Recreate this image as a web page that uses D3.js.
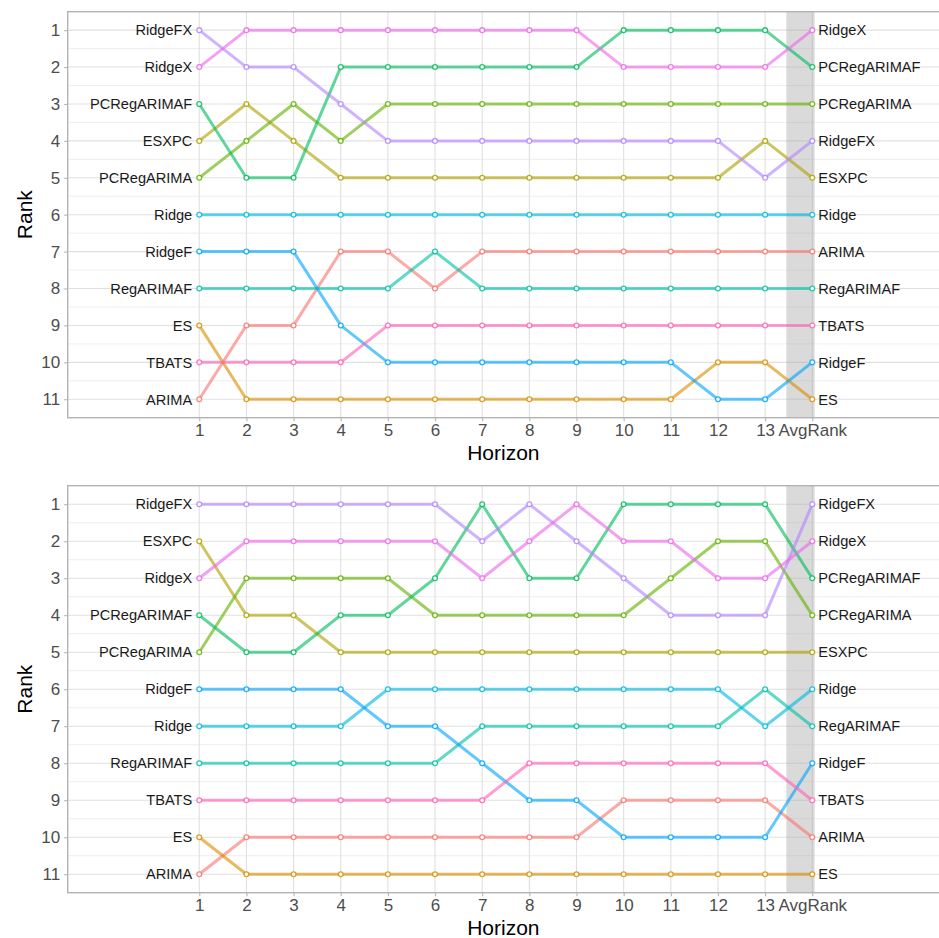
<!DOCTYPE html>
<html>
<head>
<meta charset="utf-8">
<script src="https://cdn.jsdelivr.net/npm/d3@7"></script>
<style>
  html, body { margin: 0; padding: 0; background: #fff; }
  svg { display: block; font-family: "Liberation Sans", Arial, sans-serif; }
</style>
</head>
<body>
<svg id="chart" width="939" height="938"></svg>
<script>
// ---------- data ----------
const models = ["ARIMA", "ES", "ESXPC", "PCRegARIMA", "PCRegARIMAF", "RegARIMAF",
                "Ridge", "RidgeF", "RidgeFX", "RidgeX", "TBATS"];
const modelColors = ["#F8766D", "#DB8E00", "#AEA200", "#64B200", "#00BD5C", "#00C1A7",
                     "#00BADE", "#00A6FF", "#B385FF", "#EF67EB", "#FF63B6"];
const horizonLabels = ["1","2","3","4","5","6","7","8","9","10","11","12","13","AvgRank"];
const rankTicks = [1,2,3,4,5,6,7,8,9,10,11];

// Top panel ranks: horizons 1..13 then AvgRank
const topARIMA       = [11, 9, 9, 7, 7, 8, 7, 7, 7, 7, 7, 7, 7, 7];
const topES          = [ 9,11,11,11,11,11,11,11,11,11,11,10,10,11];
const topESXPC       = [ 4, 3, 4, 5, 5, 5, 5, 5, 5, 5, 5, 5, 4, 5];
const topPCRegARIMA  = [ 5, 4, 3, 4, 3, 3, 3, 3, 3, 3, 3, 3, 3, 3];
const topPCRegARIMAF = [ 3, 5, 5, 2, 2, 2, 2, 2, 2, 1, 1, 1, 1, 2];
const topRegARIMAF   = [ 8, 8, 8, 8, 8, 7, 8, 8, 8, 8, 8, 8, 8, 8];
const topRidge       = [ 6, 6, 6, 6, 6, 6, 6, 6, 6, 6, 6, 6, 6, 6];
const topRidgeF      = [ 7, 7, 7, 9,10,10,10,10,10,10,10,11,11,10];
const topRidgeFX     = [ 1, 2, 2, 3, 4, 4, 4, 4, 4, 4, 4, 4, 5, 4];
const topRidgeX      = [ 2, 1, 1, 1, 1, 1, 1, 1, 1, 2, 2, 2, 2, 1];
const topTBATS       = [10,10,10,10, 9, 9, 9, 9, 9, 9, 9, 9, 9, 9];

// Bottom panel ranks
const botARIMA       = [11,10,10,10,10,10,10,10,10, 9, 9, 9, 9,10];
const botES          = [10,11,11,11,11,11,11,11,11,11,11,11,11,11];
const botESXPC       = [ 2, 4, 4, 5, 5, 5, 5, 5, 5, 5, 5, 5, 5, 5];
const botPCRegARIMA  = [ 5, 3, 3, 3, 3, 4, 4, 4, 4, 4, 3, 2, 2, 4];
const botPCRegARIMAF = [ 4, 5, 5, 4, 4, 3, 1, 3, 3, 1, 1, 1, 1, 3];
const botRegARIMAF   = [ 8, 8, 8, 8, 8, 8, 7, 7, 7, 7, 7, 7, 6, 7];
const botRidge       = [ 7, 7, 7, 7, 6, 6, 6, 6, 6, 6, 6, 6, 7, 6];
const botRidgeF      = [ 6, 6, 6, 6, 7, 7, 8, 9, 9,10,10,10,10, 8];
const botRidgeFX     = [ 1, 1, 1, 1, 1, 1, 2, 1, 2, 3, 4, 4, 4, 1];
const botRidgeX      = [ 3, 2, 2, 2, 2, 2, 3, 2, 1, 2, 2, 3, 3, 2];
const botTBATS       = [ 9, 9, 9, 9, 9, 9, 9, 8, 8, 8, 8, 8, 8, 9];

const topRanks = [topARIMA, topES, topESXPC, topPCRegARIMA, topPCRegARIMAF, topRegARIMAF,
                  topRidge, topRidgeF, topRidgeFX, topRidgeX, topTBATS];
const botRanks = [botARIMA, botES, botESXPC, botPCRegARIMA, botPCRegARIMAF, botRegARIMAF,
                  botRidge, botRidgeF, botRidgeFX, botRidgeX, botTBATS];

// ---------- drawing ----------
const svg = d3.select("#chart");
const color = d3.scaleOrdinal().domain(models).range(modelColors);

const panelLeft = 67.7, panelRight = 941;
const x = d3.scaleLinear().domain([-1.79, 16.73]).range([panelLeft, panelRight]);
const xPos = i => x(i + 1);

function drawPanel(top, bottom, ranks) {
  const g = svg.append("g");
  const y = d3.scaleLinear().domain([0.5, 11.5]).range([top, bottom]);

  // minor horizontal gridlines
  const minor = d3.range(1.5, 11.5, 1);
  g.selectAll(".minor").data(minor).enter().append("line")
    .attr("x1", panelLeft).attr("x2", panelRight)
    .attr("y1", d => y(d)).attr("y2", d => y(d))
    .attr("stroke", "#E6E6E6").attr("stroke-width", 0.7);
  // major horizontal gridlines
  g.selectAll(".majorY").data(rankTicks).enter().append("line")
    .attr("x1", panelLeft).attr("x2", panelRight)
    .attr("y1", d => y(d)).attr("y2", d => y(d))
    .attr("stroke", "#E0E0E0").attr("stroke-width", 1.1);
  // major vertical gridlines
  g.selectAll(".majorX").data(horizonLabels).enter().append("line")
    .attr("x1", (d, i) => xPos(i)).attr("x2", (d, i) => xPos(i))
    .attr("y1", top).attr("y2", bottom)
    .attr("stroke", "#E0E0E0").attr("stroke-width", 1.1);

  // shaded AvgRank band
  g.append("rect")
    .attr("x", x(13.45)).attr("width", x(14.05) - x(13.45))
    .attr("y", top).attr("height", bottom - top)
    .attr("fill", "#A6A6A6").attr("fill-opacity", 0.42);

  // lines
  const line = d3.line().x((d, i) => xPos(i)).y(d => y(d));
  models.forEach((m, k) => {
    g.append("path").datum(ranks[k])
      .attr("d", line)
      .attr("fill", "none")
      .attr("stroke", color(m))
      .attr("stroke-opacity", 0.62)
      .attr("stroke-width", 3)
      .attr("stroke-linejoin", "round");
  });
  // points
  models.forEach((m, k) => {
    g.selectAll(null).data(ranks[k]).enter().append("circle")
      .attr("cx", (d, i) => xPos(i)).attr("cy", d => y(d))
      .attr("r", 2.4)
      .attr("fill", "#fff")
      .attr("stroke", color(m))
      .attr("stroke-opacity", 0.85)
      .attr("stroke-width", 1.3);
  });

  // left labels
  models.forEach((m, k) => {
    g.append("text")
      .attr("x", xPos(0) - 7).attr("y", y(ranks[k][0]))
      .attr("dy", "0.36em")
      .attr("text-anchor", "end")
      .attr("font-size", 14.6).attr("fill", "#1a1a1a")
      .text(m);
  });
  // right labels
  const last = horizonLabels.length - 1;
  models.forEach((m, k) => {
    g.append("text")
      .attr("x", xPos(last) + 6).attr("y", y(ranks[k][last]))
      .attr("dy", "0.36em")
      .attr("text-anchor", "start")
      .attr("font-size", 14.6).attr("fill", "#1a1a1a")
      .text(m);
  });

  // panel border
  g.append("rect")
    .attr("x", panelLeft).attr("y", top)
    .attr("width", panelRight - panelLeft).attr("height", bottom - top)
    .attr("fill", "none").attr("stroke", "#B3B3B3").attr("stroke-width", 1.4);

  // y axis
  const yAxis = d3.axisLeft(y).tickValues(rankTicks).tickSize(3.5).tickPadding(4);
  const ya = g.append("g").attr("transform", `translate(${panelLeft},0)`).call(yAxis);
  ya.select(".domain").remove();
  ya.selectAll(".tick line").attr("stroke", "#B3B3B3").attr("stroke-width", 1.1);
  ya.selectAll(".tick text").attr("font-size", 17).attr("fill", "#4D4D4D")
    .attr("font-family", "Liberation Sans, Arial, sans-serif");

  // x axis
  const xAxis = d3.axisBottom(x).tickValues(d3.range(1, 15))
    .tickFormat((d) => horizonLabels[d - 1]).tickSize(3.5).tickPadding(3);
  const xa = g.append("g").attr("transform", `translate(0,${bottom})`).call(xAxis);
  xa.select(".domain").remove();
  xa.selectAll(".tick line").attr("stroke", "#B3B3B3").attr("stroke-width", 1.1);
  xa.selectAll(".tick text").attr("font-size", 17).attr("fill", "#4D4D4D")
    .attr("font-family", "Liberation Sans, Arial, sans-serif");

  // axis titles
  g.append("text")
    .attr("x", (panelLeft + 939) / 2).attr("y", bottom + 42.5)
    .attr("text-anchor", "middle").attr("font-size", 21).attr("fill", "#000")
    .text("Horizon");
  g.append("text")
    .attr("transform", `translate(32,${(top + bottom) / 2}) rotate(-90)`)
    .attr("text-anchor", "middle").attr("font-size", 21).attr("fill", "#000")
    .text("Rank");
}

drawPanel(11.7, 417.7, topRanks);
drawPanel(485.7, 892.7, botRanks);
</script>
</body>
</html>
